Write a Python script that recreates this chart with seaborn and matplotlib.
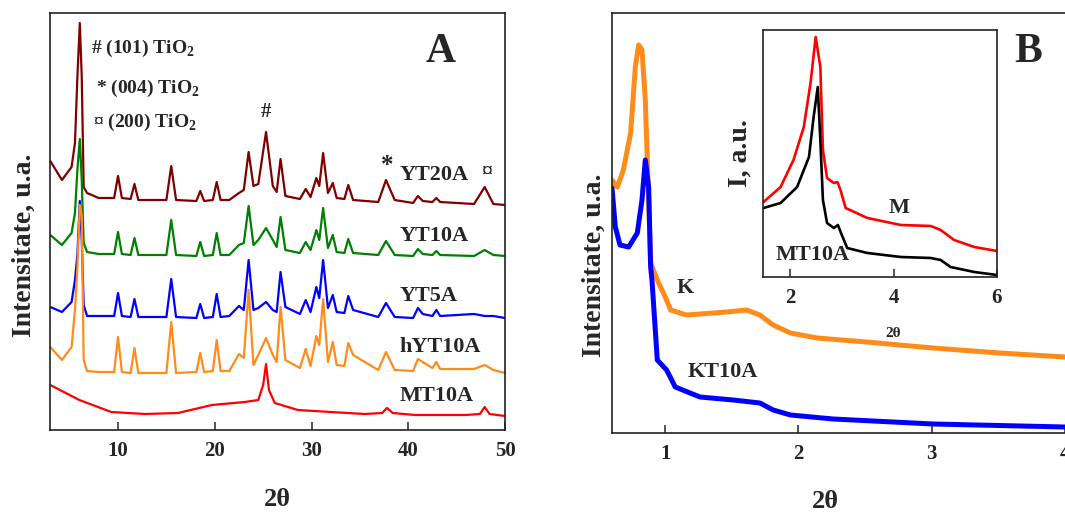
import matplotlib
matplotlib.use("Agg")
import matplotlib.pyplot as plt
import seaborn as sns

# ---- Panel A: XRD patterns (stacked, a.u.) ----
xrd_2theta = [3.0, 4.2, 5.2, 5.55, 5.8, 6.05, 6.25, 6.45, 6.8, 8.0, 9.6, 10.0, 10.4, 11.3, 11.7,
              12.1, 15.0, 15.5, 16.0, 18.1, 18.5, 18.9, 19.8, 20.2, 20.6, 21.5, 22.5, 23.0, 23.5,
              24.0, 24.5, 25.3, 26.0, 26.4, 26.8, 27.3, 28.8, 29.4, 29.9, 30.5, 30.8, 31.2, 31.7,
              32.2, 32.6, 33.4, 33.8, 34.3, 36.9, 37.7, 38.6, 40.5, 41.0, 41.5, 42.5, 42.9, 43.3,
              46.8, 47.9, 48.8, 50.0]
yt20a = [269, 250, 263, 287, 353, 407, 353, 243, 237, 232, 232, 254, 232, 231, 246, 230, 230, 264,
         230, 229, 239, 229, 230, 248, 230, 230, 237, 240, 278, 244, 246, 298, 244, 238, 271, 234,
         231, 241, 233, 252, 244, 277, 237, 247, 232, 231, 245, 230, 228, 250, 230, 227, 234, 229,
         228, 232, 228, 226, 243, 226, 225]
yt10a = [195, 185, 197, 217, 260, 291, 250, 187, 178, 176, 176, 198, 176, 175, 192, 175, 175, 210,
         175, 174, 188, 174, 175, 197, 175, 175, 185, 187, 224, 185, 190, 202, 190, 183, 213, 180,
         177, 188, 180, 200, 190, 222, 182, 195, 178, 177, 191, 177, 175, 189, 175, 174, 181, 176,
         175, 179, 175, 174, 180, 175, 174]
yt5a = [123, 118, 128, 150, 175, 229, 190, 125, 114, 114, 114, 137, 114, 113, 131, 113, 113, 151,
        113, 112, 126, 112, 113, 136, 113, 114, 124, 120, 170, 120, 122, 128, 120, 118, 158, 123,
        116, 130, 118, 143, 132, 170, 122, 135, 118, 117, 134, 120, 113, 127, 113, 112, 122, 116,
        114, 120, 114, 116, 114, 114, 112]
hyt10a = [83, 70, 83, 120, 163, 225, 215, 70, 59, 58, 58, 93, 58, 57, 82, 57, 57, 108, 57, 58, 77,
          58, 59, 90, 59, 59, 76, 72, 140, 65, 75, 92, 75, 68, 123, 70, 62, 81, 64, 94, 85, 131,
          68, 88, 65, 64, 87, 75, 60, 78, 60, 59, 71, 68, 62, 68, 61, 61, 65, 60, 57]
mt10a_2theta = [3.0, 6.0, 9.3, 12.8, 16.2, 19.7, 23.1, 24.5, 25.0, 25.3, 25.6, 26.2, 28.6, 32.0,
                35.5, 37.3, 37.8, 38.4, 40.7, 45.9, 47.4, 47.9, 48.4, 50.0]
mt10a = [45, 30, 18, 16, 17, 25, 28, 30, 45, 66, 40, 27, 20, 18, 16, 17, 22, 17, 15, 15, 16, 23,
         16, 14]

xrd_names = ["YT20A", "YT10A", "YT5A", "hYT10A", "MT10A"]
xrd_colors = ["#800000", "#008000", "#0000ff", "#ff8c1a", "#ff0000"]
xrd_label_y = [255, 194, 134, 83, 34]

# ---- Panel B: low-angle curves ----
k_2theta = [0.6, 0.64, 0.685, 0.74, 0.775, 0.80, 0.825, 0.85, 0.875, 0.89, 0.95, 1.0, 1.04, 1.16,
            1.46, 1.61, 1.71, 1.81, 1.94, 2.14, 2.51, 3.01, 3.51, 4.0, 4.3]
k_int = [253, 246, 263, 300, 366, 388, 383, 333, 233, 170, 150, 136, 123, 118, 121, 123, 118, 108,
         100, 95, 91, 85, 80, 76, 75]
kt10a_2theta = [0.6, 0.625, 0.66, 0.725, 0.79, 0.825, 0.85, 0.875, 0.89, 0.9, 0.94, 1.01, 1.075,
                1.26, 1.51, 1.71, 1.81, 1.94, 2.26, 3.01, 4.0, 4.3]
kt10a_int = [245, 206, 188, 186, 200, 233, 273, 246, 166, 153, 73, 63, 46, 36, 33, 30, 23, 18, 14,
             9, 6, 5.5]

# inset
m_2theta = [1.48, 1.81, 2.06, 2.26, 2.39, 2.49, 2.58, 2.63, 2.71, 2.84, 2.91, 2.97, 3.07, 3.49,
            4.14, 4.72, 4.91, 5.17, 5.56, 6.0]
m_int = [75, 90, 117, 150, 194, 240, 210, 127, 99, 94, 95, 87, 69, 59, 52, 51, 47, 37, 30, 26]
mt10a_in_2theta = [1.48, 1.81, 2.13, 2.36, 2.45, 2.53, 2.58, 2.63, 2.71, 2.84, 2.92, 2.98, 3.1,
                   3.49, 4.14, 4.72, 4.91, 5.1, 5.56, 6.0]
mt10a_in_int = [69, 74, 90, 120, 160, 190, 137, 77, 54, 49, 52, 44, 29, 24, 20, 19, 17, 10, 5, 2]

sns.set_style("white")
plt.rcParams["font.family"] = ["Liberation Serif", "DejaVu Serif"]
plt.rcParams["font.weight"] = "bold"
plt.rcParams["mathtext.fontset"] = "custom"
plt.rcParams["mathtext.rm"] = "Liberation Serif:bold"
plt.rcParams["mathtext.bf"] = "Liberation Serif:bold"
plt.rcParams["lines.solid_joinstyle"] = "round"

W, H = 1065, 519
fig = plt.figure(figsize=(W / 100, H / 100), dpi=100)


def px_axes(l, t, r, b):
    return fig.add_axes([l / W, 1 - b / H, (r - l) / W, (b - t) / H])


def style_axes(ax, size=15):
    for s in ax.spines.values():
        s.set_color("#222222")
        s.set_linewidth(1.2)
    ax.tick_params(axis="x", direction="in", length=6, width=1.1, pad=8, labelsize=size,
                   bottom=True)
    ax.tick_params(axis="y", left=False, labelleft=False)
    ax.set_yticks([])


# ---------------- Panel A ----------------
axA = px_axes(50.3, 13, 505, 430)
xrd_series = [(xrd_2theta, yt20a), (xrd_2theta, yt10a), (xrd_2theta, yt5a),
              (xrd_2theta, hyt10a), (mt10a_2theta, mt10a)]
for (xs, ys), c in zip(xrd_series, xrd_colors):
    sns.lineplot(x=xs, y=ys, ax=axA, color=c, lw=1.6, sort=False, estimator=None)
axA.set_xlim(3, 50)
axA.set_ylim(0, 417)
axA.set_xticks([10, 20, 30, 40, 50])
style_axes(axA)
axA.set_xlabel("2θ", fontsize=19, fontweight="bold")
axA.xaxis.set_label_coords(0.5, -0.14)
axA.set_ylabel("Intensitate, u.a.", fontsize=20, fontweight="bold")
axA.yaxis.set_label_coords(-0.031, 0.444)

for name, yl in zip(xrd_names, xrd_label_y):
    axA.text(39.1, yl, name, fontsize=16, fontweight="bold", va="center", ha="left")
axA.text(25.3, 318, "#", fontsize=15, ha="center", va="center")
axA.text(37.8, 265, "*", fontsize=18, ha="center", va="center")
axA.text(48.1, 258, "¤", fontsize=16, ha="center", va="center")
axA.text(7.2, 382, "# (101) TiO$_{2}$", fontsize=14, va="center")
axA.text(7.7, 342, "* (004) TiO$_{2}$", fontsize=14, va="center")
axA.text(7.4, 308, "¤ (200) TiO$_{2}$", fontsize=14, va="center")
axA.text(43.3, 378, "A", fontsize=30, fontweight="bold", ha="center", va="center")

# ---------------- Panel B ----------------
axB = px_axes(612, 13, 1105, 433)
sns.lineplot(x=k_2theta, y=k_int, ax=axB, color="#ff8c1a", lw=3.6, sort=False, estimator=None)
sns.lineplot(x=kt10a_2theta, y=kt10a_int, ax=axB, color="#0000ff", lw=3.6, sort=False,
             estimator=None)
axB.set_xlim(0.6, 1 + (1105 - 665) / 133.3)
axB.set_ylim(0, 420)
axB.set_xticks([1, 2, 3, 4])
style_axes(axB)
axB.spines["right"].set_visible(False)
axB.set_xlabel("2θ", fontsize=19, fontweight="bold")
axB.xaxis.set_label_coords((825 - 612) / (1105 - 612), -0.135)
axB.set_ylabel("Intensitate, u.a.", fontsize=20, fontweight="bold")
axB.yaxis.set_label_coords(-0.01, 0.40)
axB.text(1.15, 145, "K", fontsize=16, fontweight="bold", ha="center", va="center")
axB.text(1.43, 61, "KT10A", fontsize=16, fontweight="bold", ha="center", va="center")
axB.text(3.72, 381, "B", fontsize=30, fontweight="bold", ha="center", va="center")

# inset
axI = px_axes(763, 30, 997, 277)
sns.lineplot(x=m_2theta, y=m_int, ax=axI, color="#ff0000", lw=1.9, sort=False, estimator=None)
sns.lineplot(x=mt10a_in_2theta, y=mt10a_in_int, ax=axI, color="#000000", lw=1.9, sort=False,
             estimator=None)
axI.set_xlim(1.47, 6.0)
axI.set_ylim(0, 247)
axI.set_xticks([2, 4, 6])
style_axes(axI)
axI.set_ylabel("I, a.u.", fontsize=20, fontweight="bold")
axI.yaxis.set_label_coords(-0.043, 0.5)
axI.text(0.556, -0.227, "2θ", transform=axI.transAxes, fontsize=11, ha="center", va="center")
axI.text(4.10, 69, "M", fontsize=16, fontweight="bold", ha="center", va="center")
axI.text(2.43, 22, "MT10A", fontsize=16, fontweight="bold", ha="center", va="center")

fig.savefig("out.png", dpi=100)
